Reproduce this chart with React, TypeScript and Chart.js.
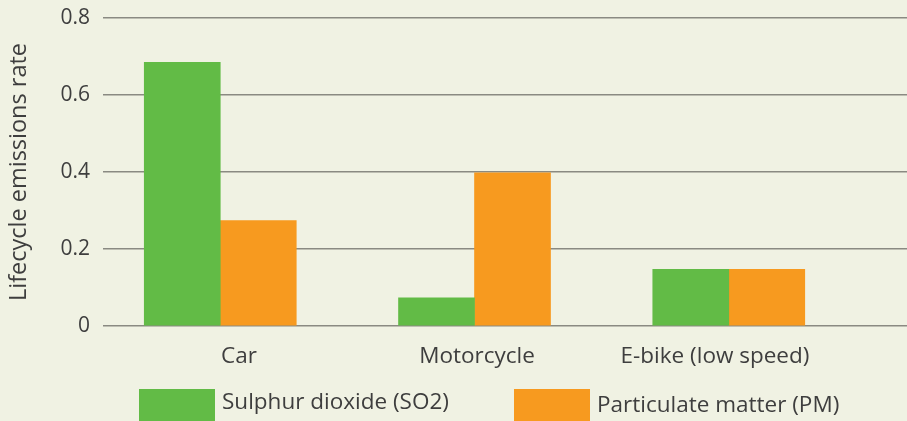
import React, { useEffect, useRef } from 'react';
import { Chart, registerables } from 'chart.js';

Chart.register(...registerables);

// ---- data ----
const categories = ['Car', 'Motorcycle', 'E-bike (low speed)'];
const so2Values = [0.685, 0.073, 0.147];
const pmValues = [0.274, 0.398, 0.147];
const seriesLabels = ['Sulphur dioxide (SO2)', 'Particulate matter (PM)'];
const yTickValues = [0, 0.2, 0.4, 0.6, 0.8];
const yTitle = 'Lifecycle emissions rate';

// ---- styles ----
const FONT = '"Open Sans", sans-serif';
const TEXT = '#3e3e3e';
const BG = '#f0f2e3';
const GREEN = '#62bb46';
const ORANGE = '#f79a1f';
const GRID = '#8a8a82';

const legendPlugin = {
  id: 'customLegend',
  afterDraw(chart: any) {
    const ctx = chart.ctx;
    const boxX = [139, 514];
    const textY = [403, 406];
    chart.data.datasets.forEach((ds: any, i: number) => {
      ctx.save();
      ctx.fillStyle = ds.backgroundColor;
      ctx.fillRect(boxX[i], 389, 76, 34);
      ctx.fillStyle = TEXT;
      ctx.font = `22.5px ${FONT}`;
      ctx.textBaseline = 'middle';
      ctx.textAlign = 'left';
      ctx.fillText(ds.label, boxX[i] + 83, textY[i]);
      ctx.restore();
    });
  },
};

export default function App() {
  const ref = useRef<HTMLCanvasElement | null>(null);

  useEffect(() => {
    if (!ref.current) return;
    const indexData = (vals: number[]) => vals.map((v, i) => ({ x: i, y: v }));
    const chart = new Chart(ref.current, {
      type: 'bar',
      data: {
        datasets: [
          {
            label: seriesLabels[0],
            data: indexData(so2Values),
            backgroundColor: GREEN,
            barThickness: 76,
            xAxisID: 'x',
          },
          {
            label: seriesLabels[1],
            data: indexData(pmValues),
            backgroundColor: ORANGE,
            barThickness: 76,
            xAxisID: 'x',
          },
        ],
      },
      options: {
        animation: false,
        responsive: false,
        devicePixelRatio: 1,
        layout: { padding: { top: 18, left: 0, right: 0, bottom: 34 } },
        plugins: {
          legend: { display: false },
          tooltip: { enabled: false },
        },
        scales: {
          x: {
            type: 'linear',
            display: false,
            offset: false,
            grid: { offset: false },
            min: -0.4612,
            max: 2.701,
          },
          x2: {
            type: 'linear',
            position: 'bottom',
            offset: false,
            min: -0.5714,
            max: 2.8067,
            grid: { display: false, drawTicks: false, offset: false },
            border: { display: false },
            afterBuildTicks: (axis: any) => {
              axis.ticks = categories.map((_, i) => ({ value: i }));
            },
            ticks: {
              autoSkip: false,
              maxRotation: 0,
              padding: 17,
              color: TEXT,
              font: { family: FONT, size: 22.5 },
              callback: (v: any) => categories[v as number] ?? '',
            },
          },
          y: {
            min: 0,
            max: 0.8,
            afterBuildTicks: (axis: any) => {
              axis.ticks = yTickValues.map((v) => ({ value: v }));
            },
            afterFit: (axis: any) => {
              axis.width = 103;
            },
            grid: {
              color: GRID,
              lineWidth: 1.5,
              drawTicks: true,
              tickLength: 13,
              tickColor: 'rgba(0,0,0,0)',
            },
            border: { display: false },
            ticks: {
              padding: 0,
              color: TEXT,
              font: { family: FONT, size: 21 },
              callback: (v: any) => (v === 0 ? '0' : Number(v).toFixed(1)),
            },
            title: {
              display: true,
              text: yTitle,
              color: TEXT,
              font: { family: FONT, size: 23.5 },
              padding: { top: 5, bottom: 0 },
            },
          },
        },
      },
      plugins: [legendPlugin],
    });
    return () => chart.destroy();
  }, []);

  return (
    <div
      style={{
        position: 'fixed',
        left: 0,
        top: 0,
        width: 907,
        height: 421,
        background: BG,
        overflow: 'hidden',
      }}
    >
      <canvas ref={ref} width={907} height={421} style={{ width: 907, height: 421, display: 'block' }} />
    </div>
  );
}
